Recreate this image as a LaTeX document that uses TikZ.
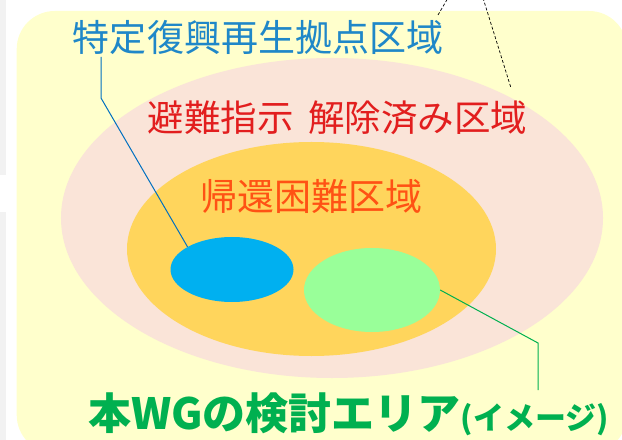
\documentclass[tikz,border=0pt]{standalone}
\usepackage{fontspec}
\setmainfont{Noto Sans CJK JP}
\usetikzlibrary{shapes.geometric}
\definecolor{graystrip}{HTML}{F2F2F2}
\definecolor{yellowbg}{HTML}{FFFFCC}
\definecolor{pinkc}{HTML}{FAE4D8}
\definecolor{goldc}{HTML}{FFD55C}
\definecolor{bluec}{HTML}{00B0F0}
\definecolor{greenc}{HTML}{99FF99}
\definecolor{bluetxt}{HTML}{1F87C8}
\definecolor{redtxt}{HTML}{E21E1E}
\definecolor{orangetxt}{HTML}{FF5214}
\definecolor{greentxt}{HTML}{00B050}
\definecolor{blueline}{HTML}{0070C0}
\tikzset{
  ell/.style={ellipse, inner sep=0pt, draw=none},
  lbl/.style={inner sep=0pt, anchor=center},
  bline/.style={draw=blueline, line width=1bp},
  gline/.style={draw=greentxt, line width=1bp},
  dline/.style={draw=black, line width=0.7bp, dash pattern=on 3bp off 2bp}
}
\begin{document}
\begin{tikzpicture}[x=1bp,y=-1bp]
\useasboundingbox (0,0) rectangle (622,440);
\clip (0,0) rectangle (622,440);
\fill[graystrip] (0,0) rectangle (6,175);
\fill[graystrip] (0,212) rectangle (6,440);
\fill[yellowbg, rounded corners=38bp] (16.7,11) rectangle (627,453);
\node[ell, fill=pinkc, minimum width=542bp, minimum height=320bp] (pink) at (332,218) {};
\node[ell, fill=goldc, minimum width=369bp, minimum height=214bp] (gold) at (311.5,249) {};
\node[ell, fill=bluec, minimum width=123bp, minimum height=65bp] (blueell) at (232,269.5) {};
\node[ell, fill=greenc, minimum width=136bp, minimum height=84bp] (greenell) at (372,290) {};
\node[lbl, text=bluetxt, font=\fontsize{37bp}{37bp}\selectfont] (lblA) at (258,37.5) {特定復興再生拠点区域};
\node[lbl, text=redtxt, font=\fontsize{36.5bp}{36.5bp}\selectfont] (lblB) at (337.5,118) {避難指示\hspace{0.4em}解除済み区域};
\node[lbl, text=orangetxt, font=\fontsize{37bp}{37bp}\selectfont] (lblC) at (311.5,196.5) {帰還困難区域};
\node[inner sep=0pt, anchor=west, text=greentxt, font=\bfseries\fontsize{43bp}{43bp}\selectfont] (lblD) at (88,414) {本WGの検討エリア{\fontsize{31bp}{31bp}\selectfont (イメージ)}};
\coordinate (a0) at (101,57);
\coordinate (a1) at (101,98);
\draw[bline] (a0) -- (a1) -- (blueell.153);
\coordinate (g1) at (538,343);
\coordinate (g2) at (538,390);
\draw[gline] (greenell.east) -- (g1) -- (g2);
\coordinate (d0) at (438,15);
\coordinate (d1) at (448,-2);
\coordinate (d2) at (483,-2);
\coordinate (d3) at (511,88);
\draw[dline] (d0) -- (d1);
\draw[dline] (d2) -- (d3);
\end{tikzpicture}
\end{document}
